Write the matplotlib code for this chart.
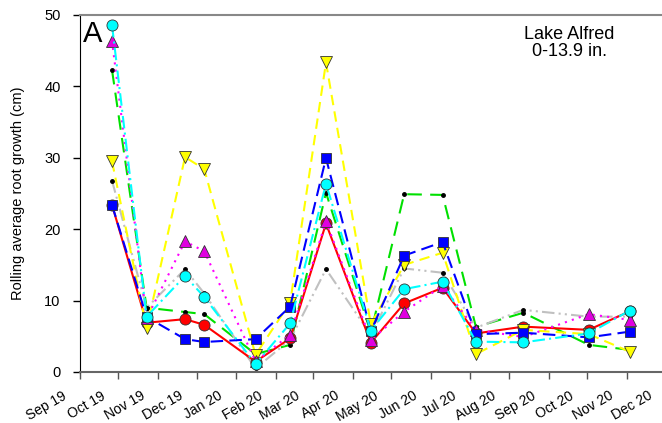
import numpy as np
import matplotlib
matplotlib.use('Agg')
import matplotlib.pyplot as plt
import matplotlib.dates as mdates
from matplotlib.transforms import ScaledTranslation
import datetime as dt

plt.rcParams['font.family'] = ['Liberation Sans', 'DejaVu Sans']

# sampling dates
dates = ['2019-09-26', '2019-10-23', '2019-11-22', '2019-12-07', '2020-01-16',
         '2020-02-12', '2020-03-11', '2020-04-15', '2020-05-11', '2020-06-10',
         '2020-07-06', '2020-08-12', '2020-10-02', '2020-11-03']
dates = [dt.datetime.strptime(d, '%Y-%m-%d') for d in dates]

# rolling average root growth (cm)
red     = [23.4, 6.9, 7.4, 6.6, 1.45, 4.7, 20.8, 4.1, 9.6, 11.8, 5.4, 6.35, 5.9, 8.5]
blue    = [23.4, 7.7, 4.6, 4.2, 4.6, 9.15, 29.95, 5.7, 16.3, 18.2, 5.3, 5.5, 4.85, 5.65]
cyan    = [48.6, 7.75, 13.45, 10.5, 1.1, 6.8, 26.35, 5.8, 11.6, 12.65, 4.25, 4.15, 5.4, 8.6]
magenta = [46.4, 7.5, 18.3, 16.9, 1.5, 5.2, 21.1, 4.5, 8.45, 12.05, 5.9, 4.9, 8.1, 7.3]
yellow  = [29.5, 6.1, 30.1, 28.4, 2.4, 9.7, 43.35, 6.7, 15.0, 16.7, 2.5, 5.9, 5.3, 2.85]
green   = [42.3, 9.0, 8.4, 8.1, 2.5, 3.8, 25.1, 5.5, 24.9, 24.8, 6.3, 8.3, 3.8, 3.1]
gray    = [26.8, 9.0, 14.4, 11.0, 0.5, 4.5, 14.4, 5.2, 14.5, 13.9, 6.2, 8.7, 7.75, 7.75]

fig = plt.figure(figsize=(6.62, 4.23), dpi=100)
ax = fig.add_axes([0.1208, 0.1206, 0.902, 0.844])

lw = 1.5
ec = '#333333'
ax.plot(dates, green, color='#00e000', lw=lw, dashes=(7, 4),
        marker='o', ms=2.5, mfc='k', mec='k')
ax.plot(dates, gray, color='#c0c0c0', lw=lw, dashes=(6, 2, 1, 2, 1, 2),
        marker='o', ms=2.5, mfc='k', mec='k')
ax.plot(dates, red, color='#ff0000', lw=lw, marker='o', ms=8, mfc='#ff0000', mec=ec, mew=0.6)
ax.plot(dates, yellow, color='#ffff00', lw=lw, dashes=(5, 3),
        marker='v', ms=8, mfc='#ffff00', mec=ec, mew=0.6)
ax.plot(dates, magenta, color='#ff00ff', lw=lw, dashes=(1, 2.5),
        marker='^', ms=8, mfc='#e000e0', mec=ec, mew=0.6)
ax.plot(dates, blue, color='#0000ff', lw=lw, dashes=(6, 3),
        marker='s', ms=7.5, mfc='#0000ff', mec=ec, mew=0.6)
ax.plot(dates, cyan, color='#00ffff', lw=lw, dashes=(6, 2, 1, 2),
        marker='o', ms=8, mfc='#00ffff', mec=ec, mew=0.6)

ax.set_xlim(dt.datetime(2019, 9, 1), dt.datetime(2020, 12, 10))
ax.set_ylim(0, 50)
ax.set_yticks(range(0, 51, 10))
ax.xaxis.set_major_locator(mdates.MonthLocator())
ax.xaxis.set_major_formatter(mdates.DateFormatter('%b %y'))
ax.tick_params(axis='both', direction='out', length=5, width=1, labelsize=10)
ax.tick_params(axis='y', pad=9, labelsize=10.5)
ax.tick_params(axis='x', pad=7, colors='#555555', labelcolor='k')
for lab in ax.get_xticklabels():
    lab.set_rotation(30)
    lab.set_ha('right')
    lab.set_transform(lab.get_transform() + ScaledTranslation(-8 / 72, 0, fig.dpi_scale_trans))

ax.spines['right'].set_visible(False)
ax.spines['top'].set_color('#888888')
ax.spines['bottom'].set_color('#666666')
ax.spines['bottom'].set_linewidth(1.5)
ax.spines['top'].set_linewidth(1.5)
ax.spines['left'].set_color('k')

ax.set_ylabel('Rolling average root growth (cm)', fontsize=10.5, labelpad=14)
ax.text(0.005, 0.985, 'A', transform=ax.transAxes, fontsize=21, va='top', ha='left')
ax.text(0.82, 0.97, 'Lake Alfred\n0-13.9 in.', transform=ax.transAxes,
        fontsize=13, ha='center', va='top', linespacing=1.05)

fig.savefig('out.png', dpi=100)
